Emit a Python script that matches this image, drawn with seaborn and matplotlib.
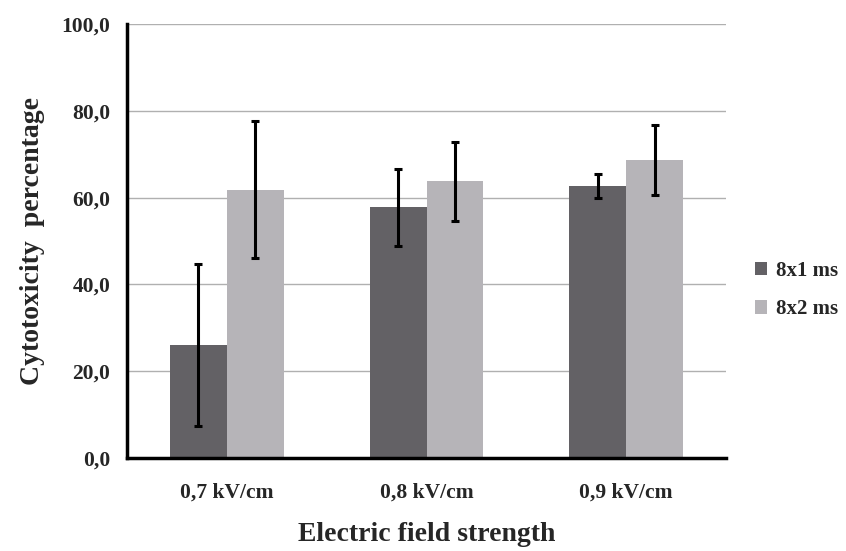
import matplotlib
matplotlib.use("Agg")
import matplotlib.pyplot as plt
import seaborn as sns
import pandas as pd
import numpy as np
from matplotlib.ticker import FixedLocator

categories = ["0,7 kV/cm", "0,8 kV/cm", "0,9 kV/cm"]
series_names = ["8x1 ms", "8x2 ms"]
values_8x1 = [26.0, 57.8, 62.7]
values_8x2 = [61.8, 63.8, 68.6]
err_8x1 = [18.7, 8.9, 2.8]
err_8x2 = [15.8, 9.1, 8.1]
yticks = [0, 20, 40, 60, 80, 100]
ytick_labels = ["0,0", "20,0", "40,0", "60,0", "80,0", "100,0"]

colors = ["#636165", "#b6b4b8"]

df = pd.DataFrame({
    "cat": categories * 2,
    "series": [series_names[0]] * 3 + [series_names[1]] * 3,
    "val": values_8x1 + values_8x2,
})

sns.set_style("white")
plt.rcParams["font.family"] = ["Liberation Serif", "DejaVu Serif"]
plt.rcParams["font.weight"] = "bold"

fig = plt.figure(figsize=(8.46, 5.51), dpi=100)
ax = fig.add_axes([127/846, 1 - 458/551, (726 - 127)/846, (458 - 24)/551])

sns.barplot(data=df, x="cat", y="val", hue="series", order=categories,
            hue_order=series_names, palette=colors, width=0.57, ax=ax,
            saturation=1, edgecolor="none", linewidth=0, legend=True)

errs = [err_8x1, err_8x2]
for cont, e in zip(ax.containers, errs):
    xs = [p.get_x() + p.get_width() / 2 for p in cont.patches]
    hs = [p.get_height() for p in cont.patches]
    ax.errorbar(xs, hs, yerr=e, fmt="none", ecolor="black", elinewidth=2.2,
                capsize=3, capthick=2.2, zorder=5)

ax.set_ylim(0, 100)
ax.set_xlim(-0.5, 2.5)
ax.set_yticks(yticks)
ax.set_yticklabels(ytick_labels, fontsize=15.5, fontweight="bold")
ax.yaxis.grid(True, color="#b0b0b0", linewidth=1)
ax.set_axisbelow(True)

ax.tick_params(axis="x", which="major", length=0, pad=18, labelsize=15.5)
for lab in ax.get_xticklabels():
    lab.set_fontweight("bold")
ax.xaxis.set_minor_locator(FixedLocator([0.5, 1.5, 2.5]))
ax.tick_params(axis="x", which="minor", length=6, width=2.2, direction="out", color="black")
ax.tick_params(axis="y", length=7, width=2.2, direction="out", color="black", pad=5)

for s in ["top", "right"]:
    ax.spines[s].set_visible(False)
for s in ["left", "bottom"]:
    ax.spines[s].set_color("black")
    ax.spines[s].set_linewidth(2.5)

ax.set_xlabel("Electric field strength", fontsize=20, fontweight="bold", labelpad=14)
ax.set_ylabel("Cytotoxicity  percentage", fontsize=20, fontweight="bold", labelpad=12)

leg = ax.legend(loc="center left", bbox_to_anchor=(1.017, 0.387), frameon=False,
                prop={"family": "Liberation Serif", "weight": "bold", "size": 15},
                handlelength=0.6, handleheight=0.6, handletextpad=0.4, labelspacing=0.9)

fig.savefig("out.png", dpi=100)
